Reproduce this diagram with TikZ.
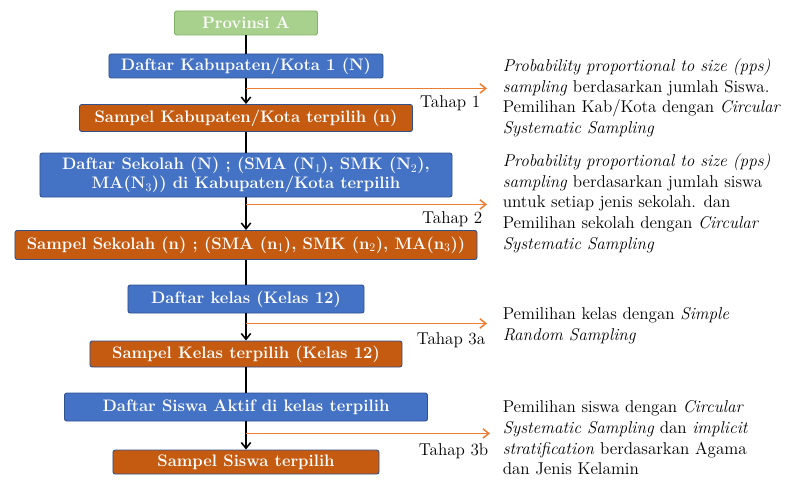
\documentclass[tikz,border=0pt]{standalone}
\usetikzlibrary{positioning,calc,arrows.meta}

\definecolor{hijau}{HTML}{A9D18E}
\definecolor{hijaugaris}{HTML}{82B366}
\definecolor{biru}{HTML}{4472C4}
\definecolor{garis}{HTML}{2F528F}
\definecolor{oranye}{HTML}{C55A11}
\definecolor{panah}{HTML}{ED7D31}

\tikzset{
  kotak/.style={draw=garis, line width=0.8pt, rounded corners=2pt, text=white,
    font=\fontsize{14.2}{16}\selectfont\bfseries, align=center, inner sep=1pt},
  daftar/.style={kotak, fill=biru},
  sampel/.style={kotak, fill=oranye},
  tahap/.style={font=\fontsize{14.6}{16}\selectfont, inner sep=0pt},
  ket/.style={font=\fontsize{14.6}{17.6}\selectfont, align=left, inner sep=0pt, anchor=north west},
  cabang/.style={draw=panah, line width=1.3pt, ->}
}

\begin{document}
\begin{tikzpicture}[x=0.03cm, y=0.03cm, on grid, >={Straight Barb[length=5pt,width=8pt]}, line width=1.3pt]
   \useasboundingbox (0,0) rectangle (786,-486);

   \node[kotak, fill=hijau, draw=hijaugaris, minimum width=4.29cm, minimum height=0.72cm] (prov) at (246,-23) {Provinsi A};
   \node[daftar, minimum width=8.22cm, minimum height=0.72cm] (kab) [below=1.29cm of prov] {Daftar Kabupaten/Kota 1 (N)};
   \node[sampel, minimum width=9.99cm, minimum height=0.81cm] (skab) [below=1.56cm of kab] {Sampel Kabupaten/Kota terpilih (n)};
   \node[daftar, minimum width=12.36cm, minimum height=1.32cm] (sek) [below=1.71cm of skab]
     {Daftar Sekolah (N) ; (SMA (N$_1$), SMK (N$_2$),\\ MA(N$_3$)) di Kabupaten/Kota terpilih};
   \node[sampel, minimum width=13.86cm, minimum height=0.87cm] (ssek) [below=2.10cm of sek]
     {Sampel Sekolah (n) ; (SMA (n$_1$), SMK (n$_2$), MA(n$_3$))};
   \node[daftar, minimum width=7.08cm, minimum height=0.84cm] (kls) [below=1.62cm of ssek] {Daftar kelas (Kelas 12)};
   \node[sampel, minimum width=9.36cm, minimum height=0.78cm] (skls) [below=1.65cm of kls] {Sampel Kelas terpilih (Kelas 12)};
   \node[daftar, minimum width=10.89cm, minimum height=0.84cm] (sis) [below=1.59cm of skls] {Daftar Siswa Aktif di kelas terpilih};
   \node[sampel, minimum width=7.98cm, minimum height=0.72cm] (ssis) [below=1.65cm of sis] {Sampel Siswa terpilih};

   % alur utama
   \draw (prov) -- (kab);
   \draw[->] (kab) -- (skab);
   \draw (skab) -- (sek);
   \draw[->] (sek) -- (ssek);
   \draw (ssek) -- (kls);
   \draw[->] (kls) -- (skls);
   \draw (skls) -- (sis);
   \draw[->] (sis) -- (ssis);

   % cabang tahap
   \coordinate (b1) at ($(kab.south)+(0,-10)$);
   \coordinate (t1) at ($(b1)+(241,0)$);
   \coordinate (b2) at ($(sek.south)+(0,-7)$);
   \coordinate (t2) at ($(b2)+(241,0)$);
   \coordinate (b3) at ($(kls.south)+(0,-10)$);
   \coordinate (t3) at ($(b3)+(241,0)$);
   \coordinate (b4) at ($(sis.south)+(0,-12)$);
   \coordinate (t4) at ($(b4)+(244,0)$);
   \draw[cabang] (b1) -- (t1);
   \draw[cabang] (b2) -- (t2);
   \draw[cabang] (b3) -- (t3);
   \draw[cabang] (b4) -- (t4);

   \node[tahap, anchor=north east] (tahap1) at ($(t1)+(-6,-6)$) {Tahap 1};
   \node[tahap, anchor=north east] (tahap2) at ($(t2)+(-4,-6)$) {Tahap 2};
   \node[tahap, anchor=north east] (tahap3a) at ($(t3)+(-1,-8)$) {Tahap 3a};
   \node[tahap, anchor=north east] (tahap3b) at ($(t4)+(-1,-9)$) {Tahap 3b};

   % keterangan
   \node[ket] (ket1) at (502,-58) {\textit{Probability proportional to size (pps)}\\
     \textit{sampling} berdasarkan jumlah Siswa.\\
     Pemilihan Kab/Kota dengan \textit{Circular}\\
     \textit{Systematic Sampling}};
   \node[ket] (ket2) at (502,-153) {\textit{Probability proportional to size (pps)}\\
     \textit{sampling} berdasarkan jumlah siswa\\
     untuk setiap jenis sekolah. dan\\
     Pemilihan sekolah dengan \textit{Circular}\\
     \textit{Systematic Sampling}};
   \node[ket] (ket3) at (502,-307) {Pemilihan kelas dengan \textit{Simple}\\
     \textit{Random Sampling}};
   \node[ket] (ket4) at (502,-400) {Pemilihan siswa dengan \textit{Circular}\\
     \textit{Systematic Sampling} dan \textit{implicit}\\
     \textit{stratification} berdasarkan Agama\\
     dan Jenis Kelamin};
\end{tikzpicture}
\end{document}
